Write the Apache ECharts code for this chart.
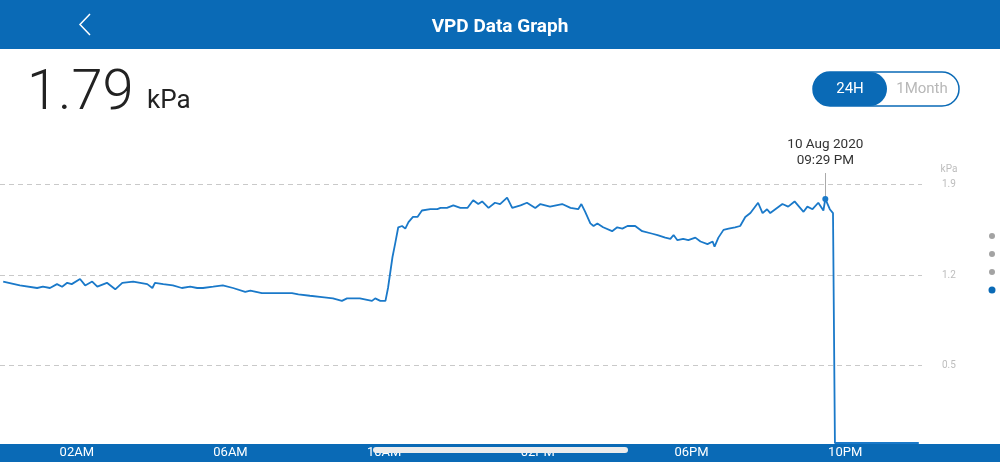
<!DOCTYPE html>
<html>
<head>
<meta charset="utf-8">
<title>VPD Data Graph</title>
<script src="https://cdn.jsdelivr.net/npm/echarts@6/dist/echarts.min.js"></script>
<style>
  html, body { margin: 0; padding: 0; background: #fff; }
  #chart { width: 1000px; height: 462px; }
</style>
</head>
<body>
<div id="chart"></div>
<script>
// readings of 10 Aug 2020, time of day -> VPD (kPa)
const times = [
  '00:05', '00:31', '00:58', '01:07', '01:18', '01:29', '01:37', '01:45', '01:52', '02:05',
  '02:13', '02:24', '02:32', '02:47', '03:00', '03:11', '03:28', '03:50', '03:58', '04:02',
  '04:15', '04:30', '04:44', '04:57', '05:08', '05:17', '05:33', '05:48', '06:04', '06:23',
  '06:31', '06:49', '07:02', '07:17', '07:36', '07:46', '08:04', '08:23', '08:40', '08:54',
  '09:02', '09:22', '09:41', '09:46', '09:54', '10:02', '10:06', '10:13', '10:17', '10:22',
  '10:28', '10:33', '10:38', '10:45', '10:52', '10:59', '11:12', '11:23', '11:28', '11:38',
  '11:48', '11:59', '12:10', '12:19', '12:27', '12:33', '12:43', '12:53', '13:01', '13:12',
  '13:20', '13:33', '13:43', '13:56', '14:04', '14:19', '14:38', '14:51', '15:03', '15:08',
  '15:14', '15:22', '15:27', '15:33', '15:42', '15:56', '16:04', '16:12', '16:20', '16:32',
  '16:43', '16:59', '17:07', '17:19', '17:27', '17:32', '17:38', '17:47', '17:55', '18:06',
  '18:14', '18:25', '18:33', '18:36', '18:42', '18:50', '18:58', '19:08', '19:16', '19:24',
  '19:32', '19:44', '19:51', '19:58', '20:03', '20:22', '20:31', '20:41', '20:55', '21:01',
  '21:09', '21:18', '21:26', '21:29', '21:36', '21:41', '21:44', '23:55'
];
const vpd = [
  1.15, 1.12, 1.10, 1.11, 1.10, 1.13, 1.11, 1.14, 1.13, 1.17,
  1.12, 1.15, 1.11, 1.14, 1.09, 1.14, 1.15, 1.13, 1.10, 1.14,
  1.13, 1.12, 1.10, 1.11, 1.10, 1.10, 1.11, 1.12, 1.10, 1.07,
  1.08, 1.06, 1.06, 1.06, 1.06, 1.05, 1.04, 1.03, 1.02, 1.00,
  1.02, 1.02, 1.00, 1.02, 1.00, 1.00, 1.10, 1.34, 1.44, 1.57,
  1.58, 1.56, 1.61, 1.65, 1.65, 1.70, 1.71, 1.71, 1.72, 1.72,
  1.74, 1.72, 1.72, 1.78, 1.75, 1.77, 1.72, 1.76, 1.75, 1.80,
  1.72, 1.74, 1.76, 1.72, 1.75, 1.73, 1.75, 1.72, 1.71, 1.75,
  1.69, 1.60, 1.58, 1.60, 1.57, 1.54, 1.57, 1.56, 1.58, 1.58,
  1.54, 1.52, 1.51, 1.49, 1.48, 1.51, 1.47, 1.48, 1.47, 1.49,
  1.46, 1.44, 1.46, 1.42, 1.49, 1.55, 1.56, 1.57, 1.58, 1.65,
  1.68, 1.76, 1.68, 1.71, 1.68, 1.75, 1.73, 1.77, 1.69, 1.73,
  1.71, 1.76, 1.70, 1.79, 1.71, 1.68, -0.10, -0.10
];
const hourTicks = [2, 6, 10, 14, 18, 22];
const kpaTicks = [0.5, 1.2, 1.9];
const current = { date: '10 Aug 2020', time: '21:29', label: '09:29 PM', value: 1.79 };

const toHours = s => {
  const p = s.split(':');
  return +p[0] + (+p[1]) / 60;
};
const hourLabel = h => {
  const ampm = h < 12 ? 'AM' : 'PM';
  const hh = h % 12 === 0 ? 12 : h % 12;
  return (hh < 10 ? '0' : '') + hh + ampm;
};

const blue = '#0a6ab6';
const lineBlue = '#1a79c9';
const points = times.map((t, i) => [toHours(t), vpd[i]]);
const curX = toHours(current.time);

const chart = echarts.init(document.getElementById('chart'));
chart.setOption({
  backgroundColor: '#fff',
  animation: false,
  title: {
    text: 'VPD Data Graph',
    left: 'center',
    top: 13,
    textStyle: { color: '#fff', fontSize: 19, fontWeight: 'bold', fontFamily: 'Roboto' }
  },
  grid: { left: 0, right: 78, top: 133, bottom: 19 },
  xAxis: {
    type: 'value',
    min: 0,
    max: 24,
    axisLine: { show: false },
    axisTick: { show: false },
    splitLine: { show: false },
    axisLabel: {
      customValues: hourTicks,
      formatter: v => hourLabel(v),
      color: '#fff',
      fontSize: 13,
      fontFamily: 'Roboto',
      margin: 3
    }
  },
  yAxis: {
    type: 'value',
    position: 'right',
    min: -0.1,
    max: 2.3,
    axisLine: { show: false },
    axisTick: { show: false, customValues: kpaTicks },
    axisLabel: {
      customValues: kpaTicks,
      color: '#bdbdbd',
      fontSize: 10,
      margin: 20,
      fontFamily: 'Roboto'
    },
    splitLine: {
      show: true,
      lineStyle: { color: '#c9c9c9', type: [5, 4], width: 1 }
    }
  },
  series: [{
    type: 'line',
    data: points,
    symbol: 'none',
    lineStyle: { color: lineBlue, width: 1.8 },
    markLine: {
      silent: true,
      symbol: 'none',
      lineStyle: { color: '#aaa', type: 'solid', width: 1 },
      label: {
        position: 'end',
        formatter: current.date + '\n' + current.label,
        color: '#333',
        fontSize: 13.5,
        lineHeight: 16,
        fontFamily: 'Roboto',
        distance: 4
      },
      data: [[{ coord: [curX, current.value] }, { coord: [curX, 1.99] }]]
    },
    markPoint: {
      silent: true,
      symbol: 'circle',
      symbolSize: 6,
      itemStyle: { color: lineBlue },
      label: { show: false },
      data: [{ coord: [curX, current.value] }]
    }
  }],
  graphic: [
    { type: 'rect', z: -10, shape: { x: 0, y: 0, width: 1000, height: 49 }, style: { fill: blue } },
    { type: 'polyline', z: 10, shape: { points: [[90, 14], [80, 24.5], [90, 35]] }, style: { stroke: '#fff', lineWidth: 1.5, fill: null } },
    { type: 'rect', z: -10, shape: { x: 0, y: 444, width: 1000, height: 18 }, style: { fill: blue } },
    { type: 'rect', z: 100, shape: { x: 373, y: 447, width: 255, height: 6, r: 3 }, style: { fill: '#ececec' } },
    {
      type: 'text', left: 27, top: 67, z: 10,
      style: { text: '1.79', fontSize: 56, fontWeight: 300, fill: '#222', fontFamily: 'Roboto' }
    },
    {
      type: 'text', left: 147, top: 88, z: 10,
      style: { text: 'kPa', fontSize: 26, fontWeight: 400, fill: '#222', fontFamily: 'Roboto' }
    },
    { type: 'rect', z: 10, shape: { x: 813, y: 72, width: 146, height: 34, r: 17 }, style: { fill: '#fff', stroke: blue, lineWidth: 1.5 } },
    { type: 'rect', z: 11, shape: { x: 813, y: 72, width: 74, height: 34, r: 17 }, style: { fill: blue } },
    { type: 'text', z: 12, x: 850, y: 89, style: { text: '24H', fontSize: 15, fill: '#fff', align: 'center', verticalAlign: 'middle', fontFamily: 'Roboto' } },
    { type: 'text', z: 12, x: 922, y: 89, style: { text: '1Month', fontSize: 15, fill: '#b8b8b8', align: 'center', verticalAlign: 'middle', fontFamily: 'Roboto' } },
    { type: 'text', z: 10, x: 949, y: 169, style: { text: 'kPa', fontSize: 10, fill: '#bdbdbd', align: 'center', verticalAlign: 'middle', fontFamily: 'Roboto' } },
    { type: 'circle', z: 10, shape: { cx: 992, cy: 236, r: 3 }, style: { fill: '#a3a3a3' } },
    { type: 'circle', z: 10, shape: { cx: 992, cy: 254, r: 3 }, style: { fill: '#a3a3a3' } },
    { type: 'circle', z: 10, shape: { cx: 992, cy: 272, r: 3 }, style: { fill: '#a3a3a3' } },
    { type: 'circle', z: 10, shape: { cx: 992, cy: 290, r: 3.5 }, style: { fill: blue } }
  ]
});
</script>
</body>
</html>
